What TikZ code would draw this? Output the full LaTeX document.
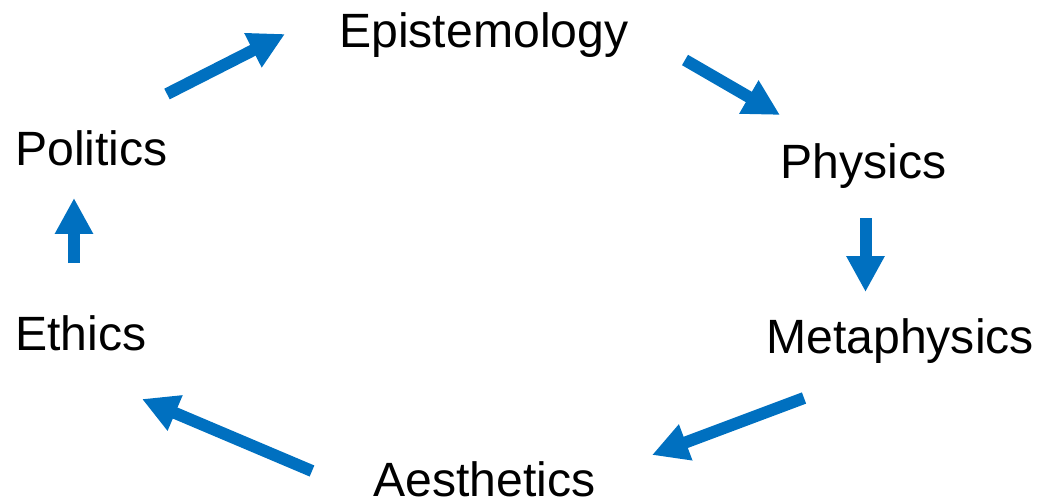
\documentclass[tikz,border=0pt]{standalone}
\usepackage{fontspec}
\setmainfont{Liberation Sans}
\usetikzlibrary{arrows.meta}
\definecolor{arrowblue}{HTML}{0070C0}
\tikzset{
    topic/.style = {font=\fontsize{27.4}{32}\selectfont, inner sep=0pt, anchor=base west},
    flow/.style = {draw=arrowblue, line width=0.24cm, -{Triangle[length=0.72cm,width=0.72cm]}}
}
\begin{document}
\begin{tikzpicture}[x = 0.02cm, y = -0.02cm]
        \useasboundingbox (0,0) rectangle (1039,504);
        
        \node[topic] (epist) at (339,47) {Epistemology};
        \node[topic] (phys) at (780,178) {Physics};
        \node[topic] (meta) at (766,353) {Metaphysics};
        \node[topic] (aesth) at (373,496) {Aesthetics};
        \node[topic] (ethics) at (15,350) {Ethics};
        \node[topic] (polit) at (15,165) {Politics};
        
        % arrow ends
        \coordinate (a1) at (167,94);   \coordinate (b1) at (285,34);
        \coordinate (a2) at (685,60);   \coordinate (b2) at (780,115);
        \coordinate (a3) at (865.5,218); \coordinate (b3) at (865.5,292);
        \coordinate (a4) at (804,398);  \coordinate (b4) at (652,455);
        \coordinate (a5) at (312,471);  \coordinate (b5) at (142,399);
        \coordinate (a6) at (74,263);   \coordinate (b6) at (74,198);
        
        \draw[flow] (a1) -- (b1);
        \draw[flow] (a2) -- (b2);
        \draw[flow] (a3) -- (b3);
        \draw[flow] (a4) -- (b4);
        \draw[flow] (a5) -- (b5);
        \draw[flow] (a6) -- (b6);
        
    \end{tikzpicture}
\end{document}
